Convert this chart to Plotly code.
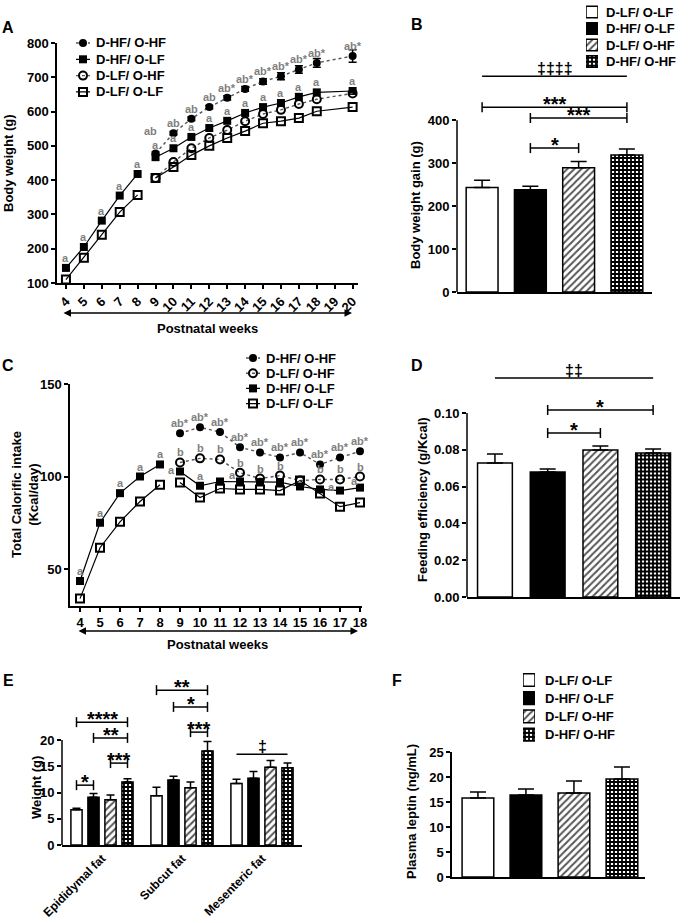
import plotly.graph_objects as go

W, H = 692, 923

groups = ["D-LF/ O-LF", "D-HF/ O-LF", "D-LF/ O-HF", "D-HF/ O-HF"]
line_order_a = ["D-HF/ O-HF", "D-HF/ O-LF", "D-LF/ O-HF", "D-LF/ O-LF"]
line_order_c = ["D-HF/ O-HF", "D-LF/ O-HF", "D-HF/ O-LF", "D-LF/ O-LF"]

# A: body weight (g)
weeks_pre = [4, 5, 6, 7, 8]
bw_pre_dhf = [144, 205, 282, 355, 418]
bw_pre_dlf = [110, 174, 241, 307, 357]
weeks_post_a = [9, 10, 11, 12, 13, 14, 15, 16, 17, 18, 20]
bw_hfhf = [478, 537, 579, 613, 640, 666, 688, 703, 723, 742, 762]
bw_hfhf_err = [4, 5, 5, 5, 6, 7, 8, 10, 11, 13, 18]
bw_hflf = [467, 493, 526, 552, 573, 596, 613, 625, 643, 656, 660]
bw_lfhf = [406, 453, 493, 523, 546, 572, 593, 605, 622, 636, 653]
bw_lflf = [406, 438, 473, 500, 523, 543, 566, 572, 581, 601, 613]
lbl_a_pre = ["a", "a", "a", "a", "a"]
lbl_a_hflf = ["a", "a", "a", "a", "a", "a", "a", "a", "a", "a", "a"]
lbl_a_hfhf = ["ab", "ab", "ab", "ab", "ab*", "ab*", "ab*", "ab*", "ab*", "ab*", "ab*"]

# B: body weight gain (g)
gain = [243, 238, 289, 319]
gain_err = [17, 8, 15, 14]

# C: total calorific intake (Kcal/day)
weeks_post_c = [9, 10, 11, 12, 13, 14, 15, 16, 17, 18]
ci_pre_dhf = [43.5, 75, 91, 100, 106.5]
ci_pre_dlf = [34, 61.5, 75.5, 86.5, 95.5]
ci_hfhf = [123.4, 126.6, 124, 115.8, 113, 110.3, 113, 106.5, 110.3, 113.6]
ci_lfhf = [107.6, 109.8, 109.2, 102, 98.9, 100.5, 97.8, 98.4, 98.4, 100]
ci_hflf = [102.7, 95, 97.3, 97.3, 97, 97, 94.6, 93, 92.4, 94]
ci_lflf = [96.7, 88.6, 93.5, 93, 93, 92.4, 97.8, 90.8, 83.7, 85.9]
lbl_c_pre = ["a", "a", "a", "a", "a"]
lbl_c_hflf = ["a", "a", "", "a", "", "", "", "", "a", "a"]
lbl_c_lfhf = ["b", "b", "b", "b", "b", "b", "", "b", "b", "b"]
lbl_c_hfhf = ["ab*"] * 10

# D: feeding efficiency (g/Kcal)
feff = [0.0728, 0.0679, 0.0799, 0.0783]
feff_err = [0.0049, 0.0017, 0.0022, 0.0021]

# E: fat pad weight (g)
depots = ["Epididymal fat", "Subcut fat", "Mesenteric fat"]
fat = {
    "D-LF/ O-LF": [6.7, 9.4, 11.7],
    "D-HF/ O-LF": [9.1, 12.4, 12.7],
    "D-LF/ O-HF": [8.6, 10.9, 14.8],
    "D-HF/ O-HF": [12.0, 17.9, 14.7],
}
fat_err = {
    "D-LF/ O-LF": [0.3, 1.6, 0.8],
    "D-HF/ O-LF": [0.7, 0.7, 1.3],
    "D-LF/ O-HF": [0.9, 1.1, 1.3],
    "D-HF/ O-HF": [0.6, 1.8, 0.9],
}

# F: plasma leptin (ng/mL)
leptin = [15.8, 16.4, 16.8, 19.6]
leptin_err = [1.2, 1.2, 2.4, 2.4]

# significance brackets: (group from, group to, y, text, caps)
brk_b = [(0, 3, 502, "‡‡‡‡", False), (0, 3, 430, "***", True),
         (1, 3, 405, "***", True), (1, 2, 335, "*", True)]
brk_d = [(0, 3, 0.119, "‡‡", False), (1, 3, 0.1016, "*", True),
         (1, 2, 0.0891, "*", True)]
brk_e = [(0, 0, 3, 23.4, "****", True), (0, 1, 3, 20.4, "**", True),
         (0, 2, 3, 15.6, "***", True), (0, 0, 1, 11.4, "*", True),
         (1, 0, 3, 29.5, "**", True), (1, 1, 3, 26.3, "*", True),
         (1, 2, 3, 21.5, "***", True), (2, 0, 3, 17.3, "‡", False)]


def px(x):
    return x / W


def py(y):
    return 1 - y / H


bar_style = {
    "D-LF/ O-LF": dict(color="white"),
    "D-HF/ O-LF": dict(color="black"),
    "D-LF/ O-HF": dict(color="white", pattern=dict(shape="/", fgcolor="#555555", bgcolor="white", size=5, solidity=0.4)),
    "D-HF/ O-HF": dict(color="white", pattern=dict(shape="+", fgcolor="black", bgcolor="white", size=4, solidity=0.7)),
}
dot = dict(color="#555555", width=1.4, dash="dot")
solid = dict(color="black", width=1.2)
line_style = {
    "D-HF/ O-HF": dict(marker=dict(symbol="circle", size=8, color="black"), line=dot),
    "D-HF/ O-LF": dict(marker=dict(symbol="square", size=8, color="black"), line=solid),
    "D-LF/ O-HF": dict(marker=dict(symbol="circle-open", size=8, color="black", line=dict(width=2)), line=dot),
    "D-LF/ O-LF": dict(marker=dict(symbol="square-open", size=8, color="black", line=dict(width=2)), line=solid),
}

fig = go.Figure()
shapes, annots, extra_axes = [], [], {}


def add_line(x, y, g, xa, ya, err=None):
    fig.add_trace(go.Scatter(
        x=x, y=y, mode="lines+markers", name=g, xaxis=xa, yaxis=ya,
        showlegend=False, cliponaxis=False,
        error_y=dict(array=err, color="black", thickness=1.5, width=4, visible=err is not None),
        **line_style[g]))


def add_labels(xs, ys, labels, xa, ya, special=None):
    special = special or {}
    for x, y, t in zip(xs, ys, labels):
        if not t:
            continue
        dx, dy = special.get(x, (0, 10))
        annots.append(dict(x=x, y=y, xref=xa, yref=ya, text=t, showarrow=False,
                           xshift=dx, yshift=dy, xanchor="center", yanchor="middle",
                           font=dict(size=11, color="#808080")))


def add_bars(vals, errs, xa, ya, width=0.66):
    for i, g in enumerate(groups):
        fig.add_trace(go.Bar(
            x=[i], y=[vals[i]], width=width, name=g, xaxis=xa, yaxis=ya,
            marker=dict(**bar_style[g], line=dict(color="black", width=1.5)),
            error_y=dict(type="data", array=[errs[i]], arrayminus=[0], symmetric=False,
                         color="black", thickness=1.5, width=8),
            showlegend=False))


def bracket(xa, ya, x0, x1, y, text, caps, cap=5):
    ln = dict(color="black", width=1.5)
    shapes.append(dict(type="line", xref=xa, yref=ya, x0=x0, x1=x1, y0=y, y1=y, line=ln))
    if caps:
        for xx in (x0, x1):
            shapes.append(dict(type="line", xref=xa, yref=ya, x0=xx, x1=xx, ysizemode="pixel",
                               yanchor=y, y0=-cap, y1=cap, line=ln))
    star = "*" in text
    annots.append(dict(x=(x0 + x1) / 2, y=y, xref=xa, yref=ya, text=text, showarrow=False,
                       xanchor="center", yanchor="bottom", yshift=-10 if star else -3,
                       font=dict(size=20 if star else 16, color="black")))


def key(n, names, kind, cx, half_w, tx, y0, step):
    # small legend drawn on its own hidden axes so the row spacing can match
    xa, ya = f"x{n}", f"y{n}"
    extra_axes[f"xaxis{n}"] = dict(domain=[px(cx - half_w), px(cx + half_w)], range=[-1, 1],
                                   visible=False, anchor=ya)
    extra_axes[f"yaxis{n}"] = dict(domain=[py(y0 + step * (len(names) - 0.5)), py(y0 - step / 2)],
                                   range=[len(names) - 0.5, -0.5], visible=False, anchor=xa)
    for k, g in enumerate(names):
        if kind == "bar":
            fig.add_trace(go.Bar(y=[k], x=[2], base=-1, orientation="h", width=0.7,
                                 marker=dict(**bar_style[g], line=dict(color="black", width=1.5)),
                                 xaxis=xa, yaxis=ya, showlegend=False, hoverinfo="skip"))
        else:
            st = line_style[g]
            fig.add_trace(go.Scatter(x=[-1, 0, 1], y=[k, k, k], mode="lines+markers",
                                     marker={**st["marker"], "opacity": [0, 1, 0]}, line=st["line"],
                                     xaxis=xa, yaxis=ya, showlegend=False, hoverinfo="skip",
                                     cliponaxis=False))
        annots.append(dict(xref="paper", yref=ya, x=px(tx), y=k, text=g, showarrow=False,
                           xanchor="left", yanchor="middle", font=dict(size=13)))


# ---- A ----
for g, ys in zip(line_order_a, [bw_hfhf, bw_hflf, bw_lfhf, bw_lflf]):
    add_line(weeks_post_a, ys, g, "x", "y", bw_hfhf_err if g == "D-HF/ O-HF" else None)
add_line(weeks_pre, bw_pre_dhf, "D-HF/ O-LF", "x", "y")
add_line(weeks_pre, bw_pre_dlf, "D-LF/ O-LF", "x", "y")
add_labels(weeks_pre, bw_pre_dhf, lbl_a_pre, "x", "y")
add_labels(weeks_post_a, bw_hflf, lbl_a_hflf, "x", "y", {9: (0, 12)})
add_labels(weeks_post_a, bw_hfhf, lbl_a_hfhf, "x", "y", {9: (-5, 22)})
key(7, line_order_a, "line", 83, 7, 94, 43, 16.3)

# ---- B ----
add_bars(gain, gain_err, "x2", "y2")
for i0, i1, y, t, c in brk_b:
    bracket("x2", "y2", i0, i1, y, t, c)
key(8, groups, "bar", 592, 6, 604, 12, 16.5)

# ---- C ----
for g, ys in zip(line_order_c, [ci_hfhf, ci_lfhf, ci_hflf, ci_lflf]):
    add_line(weeks_post_c, ys, g, "x3", "y3")
add_line(weeks_pre, ci_pre_dhf, "D-HF/ O-LF", "x3", "y3")
add_line(weeks_pre, ci_pre_dlf, "D-LF/ O-LF", "x3", "y3")
add_labels(weeks_pre, ci_pre_dhf, lbl_c_pre, "x3", "y3")
add_labels(weeks_post_c, ci_hflf, lbl_c_hflf, "x3", "y3",
           {9: (-9, 2), 12: (-8, 6), 17: (-9, 4), 18: (-6, 7)})
add_labels(weeks_post_c, ci_lfhf, lbl_c_lfhf, "x3", "y3")
add_labels(weeks_post_c, ci_hfhf, lbl_c_hfhf, "x3", "y3")
key(9, line_order_c, "line", 253, 7, 264, 358, 15.2)

# ---- D ----
add_bars(feff, feff_err, "x4", "y4")
for i0, i1, y, t, c in brk_d:
    bracket("x4", "y4", i0, i1, y, t, c)

# ---- E ----
e_width, e_slot = 0.14, 0.2125
for k, g in enumerate(groups):
    fig.add_trace(go.Bar(
        x=depots, y=fat[g], width=e_width, offset=(k - 1.5) * e_slot - e_width / 2,
        name=g, xaxis="x5", yaxis="y5", showlegend=False,
        marker=dict(**bar_style[g], line=dict(color="black", width=1.5)),
        error_y=dict(type="data", array=fat_err[g], arrayminus=[0] * 3, symmetric=False,
                     color="black", thickness=1.5, width=4)))
for cat, k0, k1, y, t, c in brk_e:
    bracket("x5", "y5", cat + (k0 - 1.5) * e_slot, cat + (k1 - 1.5) * e_slot, y, t, c)

# ---- F ----
add_bars(leptin, leptin_err, "x6", "y6")
key(10, groups, "bar", 529, 6, 543, 680, 18.2)

# y axis lines that stop at the top tick
for ya, top in [("y2", 400), ("y4", 0.10), ("y5", 20)]:
    xa = "x" + ya[1:]
    shapes.append(dict(type="line", xref=xa + " domain", yref=ya, x0=0, x1=0, y0=0, y1=top,
                       line=dict(color="black", width=1.5)))

# arrows under the week axes
for x0, x1, ya, ty in [(62, 352, 313, 328), (77, 358, 631, 644)]:
    annots.append(dict(xref="paper", yref="paper", x=px(x1), y=py(ya), ax=-(x1 - x0), ay=0,
                       axref="pixel", ayref="pixel", text="", showarrow=True,
                       arrowhead=2, startarrowhead=2, arrowside="end+start",
                       arrowwidth=1.5, arrowsize=1, arrowcolor="black"))
    annots.append(dict(xref="paper", yref="paper", x=px((x0 + x1) / 2), y=py(ty),
                       xanchor="center", yanchor="middle",
                       text="Postnatal weeks", showarrow=False, font=dict(size=13)))

# panel letters
for t, x, y in [("A", 8, 28), ("B", 417, 25), ("C", 8, 365), ("D", 417, 365),
                ("E", 8, 680), ("F", 397, 680)]:
    annots.append(dict(xref="paper", yref="paper", x=px(x), y=py(y), text=t,
                       xanchor="center", yanchor="middle",
                       showarrow=False, font=dict(size=16)))

# y titles
for t, x, y in [("Body weight (g)", 9, 163), ("Body weight gain (g)", 415, 205),
                ("Total Calorific intake<br>(Kcal/day)", 25, 495),
                ("Feeding efficiency (g/Kcal)", 422, 500), ("Weight (g)", 36, 788),
                ("Plasma leptin (ng/mL)", 411, 812)]:
    annots.append(dict(xref="paper", yref="paper", x=px(x), y=py(y), text=t, textangle=-90,
                       xanchor="center", yanchor="middle",
                       showarrow=False, font=dict(size=13)))

ax = dict(showline=True, linecolor="black", linewidth=1.5, ticks="outside", ticklen=4,
          tickwidth=1.5, tickcolor="black", showgrid=False, zeroline=False,
          tickfont=dict(size=13), automargin=False)
noline_y = dict(ax, showline=False)
hidden_x = dict(ax, ticks="", showticklabels=False)

fig.update_layout(
    template="none",
    width=W, height=H, margin=dict(l=0, r=0, t=0, b=0, autoexpand=False),
    paper_bgcolor="white", plot_bgcolor="rgba(0,0,0,0)",
    font=dict(family="Liberation Sans, Arial, sans-serif", color="black", size=13, weight="bold"),
    barmode="overlay", showlegend=False,
    xaxis=dict(ax, domain=[px(57), px(358)], range=[3.5, 20.3], tickvals=list(range(4, 21)),
               tickangle=-45, anchor="y"),
    yaxis=dict(ax, domain=[py(283), py(43)], range=[100, 800], dtick=100, anchor="x"),
    xaxis2=dict(hidden_x, domain=[px(457), px(652)], range=[-0.52, 3.52], anchor="y2"),
    yaxis2=dict(noline_y, domain=[py(292), py(60)], range=[0, 540], tickvals=[0, 100, 200, 300, 400], anchor="x2"),
    xaxis3=dict(ax, domain=[px(70), px(362)], range=[3.5, 18.1], tickvals=list(range(4, 19)),
                tickangle=0, anchor="y3"),
    yaxis3=dict(ax, domain=[py(606), py(384)], range=[30, 150], tickvals=[50, 100, 150], anchor="x3"),
    xaxis4=dict(hidden_x, domain=[px(467), px(680)], range=[-0.53, 3.51], anchor="y4"),
    yaxis4=dict(noline_y, domain=[py(597), py(361.5)], range=[0, 0.128],
                tickvals=[0, 0.02, 0.04, 0.06, 0.08, 0.10], tickformat=".2f", anchor="x4"),
    xaxis5=dict(ax, domain=[px(62), px(302)], range=[-0.5, 2.5], ticks="", tickangle=-45,
                tickfont=dict(size=12), anchor="y5"),
    yaxis5=dict(noline_y, domain=[py(845), py(677)], range=[0, 32], tickvals=[0, 5, 10, 15, 20], anchor="x5"),
    xaxis6=dict(hidden_x, domain=[px(452), px(645)], range=[-0.54, 3.48], anchor="y6"),
    yaxis6=dict(ax, domain=[py(877), py(752)], range=[0, 25], dtick=5, anchor="x6"),
    shapes=shapes, annotations=annots,
)
fig.update_layout(**extra_axes)

# the page body has a default 8px margin; drop it so the figure fills the window
fig.write_html("out.html", config={"displayModeBar": False},
               post_script="document.body.style.margin='0';")
